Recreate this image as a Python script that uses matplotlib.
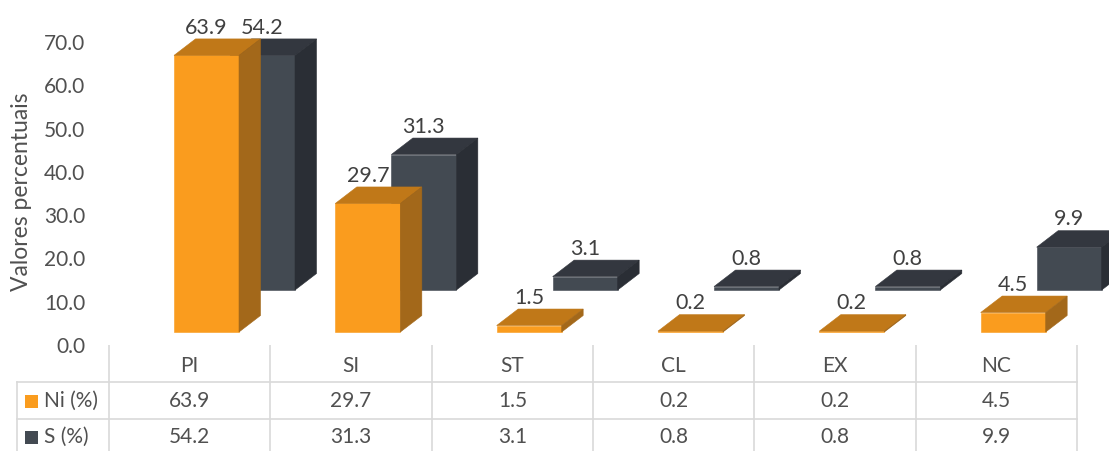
import matplotlib
matplotlib.use("Agg")
import matplotlib.pyplot as plt
from matplotlib.patches import Polygon, Rectangle

# ---- data ----
categories = ["PI", "SI", "ST", "CL", "EX", "NC"]
ni_values = [63.9, 29.7, 1.5, 0.2, 0.2, 4.5]
s_values = [54.2, 31.3, 3.1, 0.8, 0.8, 9.9]
series_names = ["Ni (%)", "S (%)"]
y_ticks = [0, 10, 20, 30, 40, 50, 60, 70]
y_label = "Valores percentuais"

# ---- style ----
FONT = "Lato"
TXT = "#505050"
GRID = "#d9d9d9"
orange = dict(front="#fa9c1e", top="#c07818", side="#a3681a")
dark = dict(front="#434a52", top="#33373f", side="#2a2e35")

W, H = 1109, 451
fig = plt.figure(figsize=(W / 100, H / 100), dpi=100)

x0_px, x1_px = 109, 1077
y0_px, y70_px = 345, 42

def fx(px):
    return px / W

def fy(py):
    return 1 - py / H

axt = fig.add_axes([0, 0, 1, 1])
axt.set_xlim(0, W)
axt.set_ylim(H, 0)
axt.axis("off")

ax = fig.add_axes([fx(x0_px), fy(y0_px), fx(x1_px) - fx(x0_px), fy(y70_px) - fy(y0_px)])
ax.patch.set_alpha(0)
n = len(categories)
ax.set_xlim(-0.5, n - 0.5)
ax.set_ylim(0, 70)
for sp in ax.spines.values():
    sp.set_visible(False)
ax.set_xticks([])
ax.set_yticks(y_ticks)
ax.set_yticklabels([f"{v:.1f}" for v in y_ticks], fontsize=15, color=TXT, family=FONT)
ax.tick_params(axis="y", length=0, pad=17)
ax.set_ylabel(y_label, fontsize=16.5, color=TXT, family=FONT)
ax.yaxis.set_label_coords(-0.08, 0.505)

col_px = (x1_px - x0_px) / n
px_per_val = (y0_px - y70_px) / 70.0

bar_w = 65 / col_px
depth_dx = 21.5 / col_px
depth_dy = 16.5 / px_per_val
front_off = 65 / col_px
front_base = 3.0
back_dx = 56 / col_px
back_base = 12.7


def draw_bar(xl, base, h, cols):
    kw = dict(linewidth=0.4, clip_on=False)
    ax.add_patch(Rectangle((xl, base), bar_w, h, facecolor=cols["front"],
                           edgecolor=cols["front"], **kw))
    top = [(xl, base + h), (xl + bar_w, base + h),
           (xl + bar_w + depth_dx, base + h + depth_dy), (xl + depth_dx, base + h + depth_dy)]
    ax.add_patch(Polygon(top, closed=True, facecolor=cols["top"], edgecolor=cols["top"], **kw))
    side = [(xl + bar_w, base), (xl + bar_w + depth_dx, base + depth_dy),
            (xl + bar_w + depth_dx, base + h + depth_dy), (xl + bar_w, base + h)]
    ax.add_patch(Polygon(side, closed=True, facecolor=cols["side"], edgecolor=cols["side"], **kw))


def label(xl, base, h):
    ax.text(xl + bar_w / 2, base + h + depth_dy + 0.3, f"{h:.1f}", ha="center", va="bottom",
            fontsize=15.5, color="#404040", family=FONT, clip_on=False)

for i, v in enumerate(s_values):
    xl = i - 0.5 + front_off + back_dx
    draw_bar(xl, back_base, v, dark)
    label(xl, back_base, v)

for i, v in enumerate(ni_values):
    xl = i - 0.5 + front_off
    draw_bar(xl, front_base, v, orange)
    label(xl, front_base, v)

# ---- data table ----
row_top, row1, row2, row_bot = 382, 419, 456, 470
left_px = 17
bounds = [x0_px + col_px * k for k in range(n + 1)]
for bx in bounds:
    axt.plot([bx, bx], [y0_px, row_bot], color=GRID, lw=1.2, solid_capstyle="butt")
axt.plot([left_px, left_px], [row_top, row_bot], color=GRID, lw=1.2)
for yy in (row_top, row1, row2):
    axt.plot([left_px, x1_px], [yy, yy], color=GRID, lw=1.2)

for i, c in enumerate(categories):
    cx = x0_px + col_px * (i + 0.5)
    axt.text(cx, 366, c, ha="center", va="center", fontsize=15, color=TXT, family=FONT)
    axt.text(cx, 401, f"{ni_values[i]:.1f}", ha="center", va="center", fontsize=15, color=TXT, family=FONT)
    axt.text(cx, 437, f"{s_values[i]:.1f}", ha="center", va="center", fontsize=15, color=TXT, family=FONT)

for yy, name, col in ((401, series_names[0], orange["front"]), (437, series_names[1], dark["front"])):
    axt.add_patch(Rectangle((25, yy - 6.5), 13, 13, facecolor=col, edgecolor="none"))
    axt.text(44, yy, name, ha="left", va="center", fontsize=15, color=TXT, family=FONT)

fig.savefig("out.png", dpi=100)
